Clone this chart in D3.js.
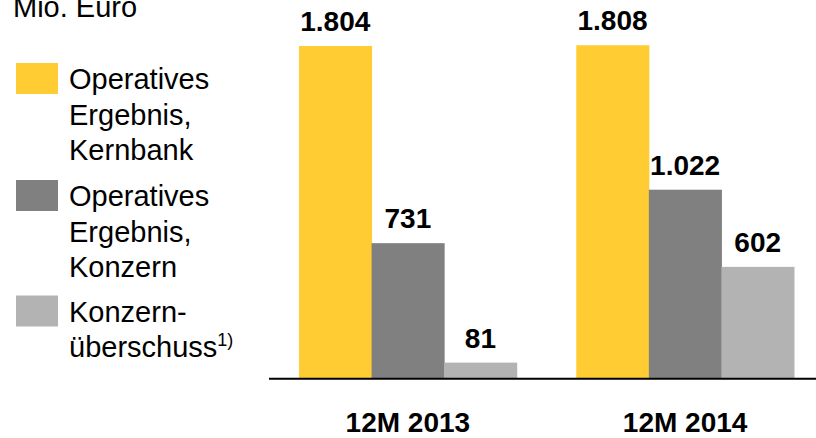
<!DOCTYPE html>
<html>
<head>
<meta charset="utf-8">
<script src="https://cdn.jsdelivr.net/npm/d3@7"></script>
<style>
  html, body { margin: 0; padding: 0; background: #fff; }
  svg { display: block; font-family: "Liberation Sans", Arial, sans-serif; }
</style>
</head>
<body>
<svg id="chart" width="816" height="438"></svg>
<script>
// Periods on the x axis
const categories = ["12M 2013", "12M 2014"];

// Series (Mio. Euro)
const seriesNames = [
  ["Operatives", "Ergebnis,", "Kernbank"],
  ["Operatives", "Ergebnis,", "Konzern"],
  ["Konzern-", "überschuss"]
];
const seriesColors = ["#FFCC33", "#808080", "#B3B3B3"];
const kernbank = [1804, 1808];
const konzern = [731, 1022];
const ueberschuss = [81, 602];
const unitLabel = "Mio. Euro";
const footnoteMark = "1)";

const values = [kernbank, konzern, ueberschuss];
const rows = categories.map((c, i) => ({
  cat: c,
  vals: values.map((v, s) => ({ s, v: v[i] }))
}));

const de = d3.formatLocale({ decimal: ",", thousands: ".", grouping: [3], currency: ["", " €"] });
const fmt = de.format(",d");

const svg = d3.select("#chart");

const x0 = d3.scaleBand().domain(categories).range([299, 794]).paddingInner(0.2148).paddingOuter(0);
const x1 = d3.scaleBand().domain(d3.range(values.length)).range([0, x0.bandwidth()]).padding(0);
const y = d3.scaleLinear().domain([0, 1804]).range([377.5, 46]);

// Bars
const groups = svg.append("g").selectAll("g").data(rows).join("g")
  .attr("transform", d => `translate(${x0(d.cat)},0)`);

groups.selectAll("rect").data(d => d.vals).join("rect")
  .attr("x", d => x1(d.s))
  .attr("width", x1.bandwidth() + 0.5)
  .attr("y", d => y(d.v))
  .attr("height", d => y(0) - y(d.v) + 0.5)
  .attr("fill", d => seriesColors[d.s]);

// Value labels
groups.selectAll("text").data(d => d.vals).join("text")
  .attr("x", d => x1(d.s) + x1.bandwidth() / 2)
  .attr("y", d => y(d.v) - 15)
  .attr("text-anchor", "middle")
  .attr("font-size", 28)
  .attr("font-weight", "bold")
  .attr("fill", "#000")
  .text(d => fmt(d.v));

// Baseline axis with category labels
const axis = d3.axisBottom(x0).tickSize(0).tickPadding(0);
const axisG = svg.append("g").attr("transform", "translate(0,378.7)").call(axis);
axisG.select(".domain").remove();
axisG.append("line")
  .attr("x1", 269).attr("x2", 816)
  .attr("stroke", "#000").attr("stroke-width", 2);
axisG.selectAll(".tick text")
  .attr("y", 53.8)
  .attr("dy", null)
  .attr("font-size", 28)
  .attr("font-weight", "bold")
  .attr("font-family", "Liberation Sans, Arial, sans-serif")
  .attr("fill", "#000");

// Unit label
svg.append("text")
  .attr("x", 13).attr("y", 16.5)
  .attr("font-size", 29)
  .attr("fill", "#000")
  .text(unitLabel);

// Legend
const legendBase = [89, 206, 321.5];
const lineStep = 35.7;
const legend = svg.append("g");
seriesNames.forEach((lines, s) => {
  const b = legendBase[s];
  legend.append("rect")
    .attr("x", 16).attr("y", b - 26)
    .attr("width", 42).attr("height", 31)
    .attr("fill", seriesColors[s]);
  const t = legend.append("text")
    .attr("x", 69).attr("y", b)
    .attr("font-size", 29)
    .attr("fill", "#000");
  lines.forEach((ln, i) => {
    t.append("tspan").attr("x", 69).attr("y", b + i * lineStep).text(ln);
    if (s === 2 && i === lines.length - 1) {
      t.append("tspan").attr("font-size", 18).attr("dy", -11).text(footnoteMark);
    }
  });
});
</script>
</body>
</html>
